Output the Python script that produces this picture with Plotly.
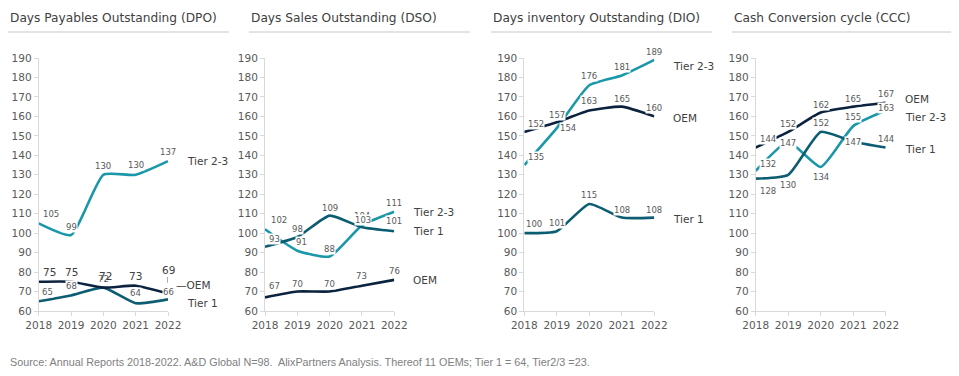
import plotly.graph_objects as go

# ---------------- data ----------------
years = [2018, 2019, 2020, 2021, 2022]
titles = ["Days Payables Outstanding (DPO)", "Days Sales Outstanding (DSO)",
          "Days inventory Outstanding (DIO)", "Cash Conversion cycle (CCC)"]
series_names = ["Tier 2-3", "Tier 1", "OEM"]

dpo_t23 = [105, 99, 130, 130, 137]
dpo_t1 = [65, 68, 72, 64, 66]
dpo_oem = [75, 75, 72, 73, 69]

dso_t23 = [102, 91, 88, 104, 111]
dso_t1 = [93, 98, 109, 103, 101]
dso_oem = [67, 70, 70, 73, 76]

dio_t23 = [135, 154, 176, 181, 189]
dio_t1 = [100, 101, 115, 108, 108]
dio_oem = [152, 157, 163, 165, 160]

ccc_t23 = [132, 147, 134, 155, 163]
ccc_t1 = [128, 130, 152, 147, 144]
ccc_oem = [144, 152, 162, 165, 167]

y_ticks = list(range(60, 200, 10))
source = "Source: Annual Reports 2018-2022. A&D Global N=98.  AlixPartners Analysis. Thereof 11 OEMs; Tier 1 = 64, Tier2/3 =23."

panels = [
    {"Tier 2-3": dpo_t23, "Tier 1": dpo_t1, "OEM": dpo_oem},
    {"Tier 2-3": dso_t23, "Tier 1": dso_t1, "OEM": dso_oem},
    {"Tier 2-3": dio_t23, "Tier 1": dio_t1, "OEM": dio_oem},
    {"Tier 2-3": ccc_t23, "Tier 1": ccc_t1, "OEM": ccc_oem},
]

# ---------------- styling / positions ----------------
OFF = 8  # default page body margin
W, H = 959 - OFF, 376 - OFF
colors = {"Tier 2-3": "#1a98aa", "Tier 1": "#0c5d72", "OEM": "#0b233f"}
FONT = "DejaVu Sans"
px_left = [38.7, 265.0, 524.3, 755.7]
px_right = [168.0, 394.3, 654.3, 885.7]
title_x = [8, 249, 491, 732]
rule_x1 = [229, 470, 712, 953]
y_top_px, y_bot_px = 58, 311


def px(x):
    return (x - OFF) / W


def py(y):
    return 1 - (y - OFF) / H


# data label offsets (xshift, yshift) in px
lab_off = [
    {"Tier 2-3": [(12, 9), (0, 8), (0, 9), (0, 10), (0, 9)],
     "Tier 1": [(9, 9), (0, 9), (0, 9), (0, 10), (0, 7)],
     "OEM": [(11, 10), (0, 10), (2, 12), (0, 10), (0, 23)]},
    {"Tier 2-3": [(14, 9), (4, 9), (0, 8), (0, 9.5), (0, 9)],
     "Tier 1": [(9, 8), (0, 8), (0, 8), (1, 7), (0, 10)],
     "OEM": [(9, 11), (0, 8), (0, 8), (0, 10), (0, 9)]},
    {"Tier 2-3": [(12, 8), (11, 0), (0, 9), (0, 9), (0, 8)],
     "Tier 1": [(10, 9), (0, 8), (0, 9), (0, 8), (0, 8)],
     "OEM": [(12, 8), (0, 7), (0, 10), (0, 8), (0, 8)]},
    {"Tier 2-3": [(12, 7), (0, -1), (0, -10), (0, 9), (0, 3)],
     "Tier 1": [(12, -12), (0, -10), (0, 9), (0, 0), (0, 9)],
     "OEM": [(12, 9), (0, 8), (0, 7), (0, 8), (0, 9)]},
]
# series name label yshift
name_off = [
    {"Tier 2-3": 0, "Tier 1": -4, "OEM": 8.5},
    {"Tier 2-3": 0, "Tier 1": 0, "OEM": 0},
    {"Tier 2-3": -6, "Tier 1": -1, "OEM": -2},
    {"Tier 2-3": -6, "Tier 1": -1, "OEM": 4},
]

fig = go.Figure()
annotations = []
shapes = []
ydom = [py(y_bot_px), py(y_top_px)]

for i, data in enumerate(panels):
    ax = "" if i == 0 else str(i + 1)
    xa, ya = "x" + ax, "y" + ax
    for name in ["Tier 2-3", "Tier 1", "OEM"]:
        fig.add_trace(go.Scatter(
            x=years, y=data[name], mode="lines", xaxis=xa, yaxis=ya,
            line=dict(color=colors[name], width=2.6, shape="spline", smoothing=0.5),
            showlegend=False, hoverinfo="skip", cliponaxis=False))
    # data labels
    for name in ["Tier 2-3", "Tier 1", "OEM"]:
        big = (i == 0 and name == "OEM")
        for j, (yr, v) in enumerate(zip(years, data[name])):
            dx, dy = lab_off[i][name][j]
            annotations.append(dict(
                x=yr, y=v, xref=xa, yref=ya, text=str(v), showarrow=False,
                xshift=dx, yshift=dy, bgcolor="white" if not big else "rgba(0,0,0,0)",
                borderpad=0,
                font=dict(family=FONT, size=10.5 if big else 8.5,
                          color="#404040" if big else "#595959")))
    # series names
    for name in ["Tier 2-3", "Tier 1", "OEM"]:
        txt = name
        xs = 17
        if i == 0 and name == "OEM":
            txt = "\u2014OEM"
            xs = 6
        annotations.append(dict(
            x=years[-1], y=data[name][-1], xref=xa, yref=ya, text=txt, showarrow=False,
            xanchor="left", xshift=xs, yshift=name_off[i][name],
            font=dict(family=FONT, size=10.5, color="#404040")))
    # titles and rules
    annotations.append(dict(
        x=px(title_x[i]), y=py(18), xref="paper", yref="paper", text=titles[i],
        showarrow=False, xanchor="left", yanchor="middle",
        font=dict(family=FONT, size=12.2, color="#404040")))
    shapes.append(dict(type="line", xref="paper", yref="paper",
                       x0=px(title_x[i]), x1=px(rule_x1[i]), y0=py(32), y1=py(32),
                       line=dict(color="#c8c8c8", width=1)))
    dom = [px(px_left[i]), px(px_right[i])]
    fig.layout["xaxis" + ax] = dict(
        domain=dom, range=[years[0], years[-1]], tickvals=years, ticktext=[str(y) for y in years],
        showline=True, linecolor="#d9d9d9", linewidth=1, ticks="outside", ticklen=4,
        tickcolor="#d9d9d9", showgrid=False, zeroline=False, anchor=ya, automargin=False,
        tickfont=dict(family=FONT, size=10.5, color="#595959"), fixedrange=True)
    fig.layout["yaxis" + ax] = dict(
        domain=ydom, range=[y_ticks[0], y_ticks[-1]], tickvals=y_ticks,
        showline=True, linecolor="#d9d9d9", linewidth=1, ticks="outside", ticklen=4,
        tickcolor="#d9d9d9", showgrid=False, zeroline=False, anchor=xa, automargin=False,
        tickfont=dict(family=FONT, size=10.5, color="#595959"), fixedrange=True)

# OEM leader tick (DPO)
shapes.append(dict(type="line", xref="x", yref="y", x0=years[-1], x1=years[-1],
                   y0=dpo_oem[-1] + 5.5, y1=dpo_oem[-1] + 8.5,
                   line=dict(color="#595959", width=1)))

annotations.append(dict(
    x=px(8), y=py(362), xref="paper", yref="paper", text=source, showarrow=False,
    xanchor="left", yanchor="middle",
    font=dict(family="Liberation Sans", size=10.8, color="#808080")))

fig.update_layout(width=W, height=H, margin=dict(l=0, r=0, t=0, b=0, autoexpand=False),
                  plot_bgcolor="white", paper_bgcolor="white",
                  annotations=annotations, shapes=shapes)
fig.write_html("out.html")
